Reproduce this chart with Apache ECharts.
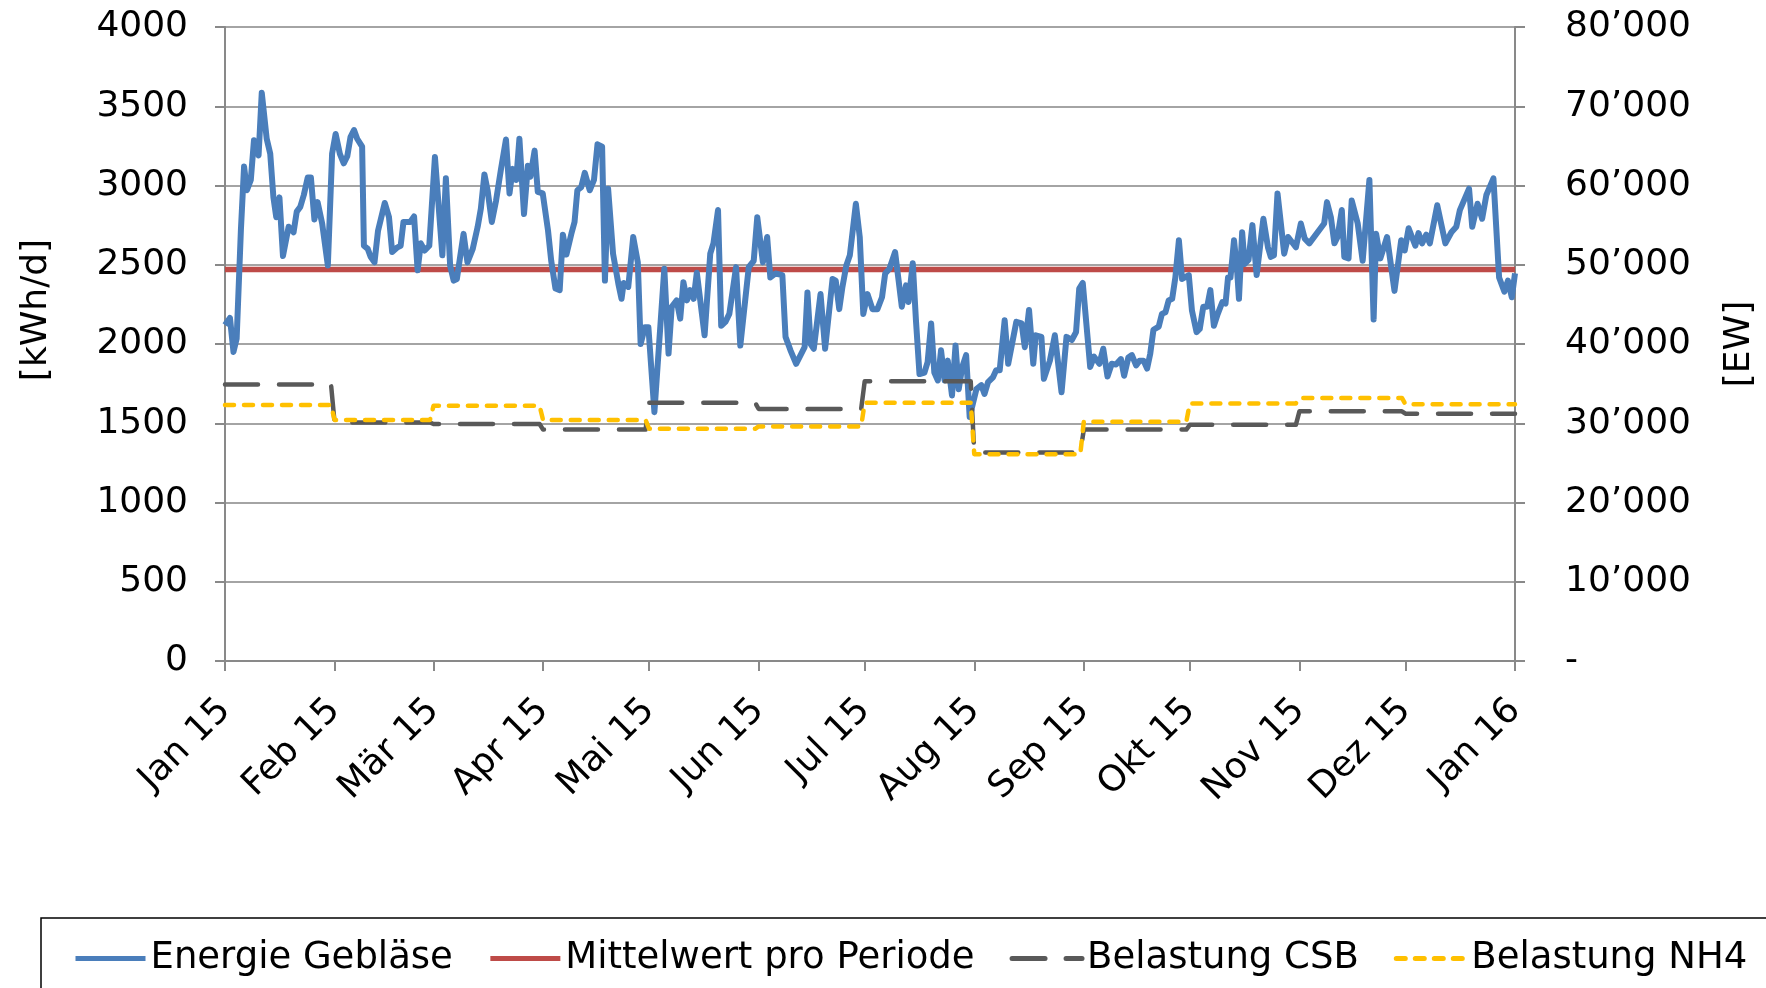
<!DOCTYPE html>
<html>
<head>
<meta charset="utf-8">
<title>Energie Gebläse</title>
<script src="https://cdn.jsdelivr.net/npm/echarts@6/dist/echarts.min.js"></script>
<style>
  html, body { margin: 0; padding: 0; background: #fff; }
  #chart { width: 1766px; height: 988px; }
</style>
</head>
<body>
<div id="chart"></div>
<script>
// month ticks on the x axis (day of year 2015)
const monthStarts = [0, 31, 59, 90, 120, 151, 181, 212, 243, 273, 304, 334, 365];
const monthLabels = ['Jan 15', 'Feb 15', 'Mär 15', 'Apr 15', 'Mai 15', 'Jun 15', 'Jul 15',
  'Aug 15', 'Sep 15', 'Okt 15', 'Nov 15', 'Dez 15', 'Jan 16'];

// Energie Gebläse [kWh/d] (day, value)
const energyDays = [
  0, 1.4, 2.4, 3.3, 4.5, 5.4, 6.2, 7.3, 8.2, 9.5, 10.4, 11.8, 12.8, 13.7, 14.5, 15.4, 16.4, 18, 19.4, 20.3,
  21.3, 22.3, 23.4, 24.3, 25.3, 26.2, 27.5, 29.1, 30.3, 31.3, 32.5, 33.6, 34.6, 35.5, 36.5, 37.4, 38.8, 39.3, 40.4, 41.2,
  42.3, 43.3, 45.2, 46.4, 47.3, 48.8, 49.7, 50.5, 52.4, 53.5, 54.5, 55.4, 56.5, 57.8, 59.4,
  61.5, 62.5, 63.7, 64.7, 65.6, 67.5, 68.6, 70.1, 71.5, 72.4, 73.4, 74.3, 75.5, 76.7, 78.1, 79.5, 80.5, 81.4, 82.4, 83.3,
  84.6, 85.7, 86.4, 87.6, 88.5, 89.9, 91.4, 92.3, 93.5, 94.7, 95.6, 96.6, 98, 98.9, 99.7, 100.8, 101.8, 103.2, 104.4, 105.4,
  106.7, 107.5, 108.4, 109.8, 111.3, 112.2, 112.8, 114.1, 115.5, 116.8, 117.6, 118.8, 119.8,
  121.5, 124.3, 125.5, 126.4, 127.8, 128.8, 129.7, 130.7, 131.6, 132.6, 133.5, 135.7, 137.3, 138.2, 139.5, 140.4, 141.6, 142.7,
  144.6, 145.8, 148.2, 149.6, 150.6, 152.2, 153.4, 154.3, 155.8, 157.7, 158.6, 160, 161.6, 164, 164.8, 165.7, 166.6, 168.5,
  169.8, 171.9, 172.8, 173.8, 174.7, 175.8, 176.8, 178.5, 179.6, 180.6,
  181.8, 183.2, 184.6, 185.9, 186.8, 188, 189.6, 190.6, 191.5, 192.7, 193.4, 194.6, 195.5, 196.5, 197.9, 198.8, 199.8, 200.7,
  201.7, 202.6, 203.6, 204.5, 205.7, 206.7, 207.6, 208.6, 209.7, 210.7, 211.2, 212.6, 214, 214.9, 215.9, 217.3, 218.2, 219.2,
  220.6, 221.6, 223.9, 225.4, 226.3, 227.5, 228.7, 229.4, 231, 231.7, 233.4, 234.8, 236.7, 238.1,
  239.6, 240.8, 241.7, 242.7, 244.8, 245.9, 247.4, 248.5, 249.7, 250.9, 252.1, 253.5, 254.4, 255.6, 256.6, 257.8, 258.8, 259.9,
  260.9, 261.8, 262.7, 264.2, 265.1, 266.1, 267, 268, 268.9, 269.9, 270.8, 272.7, 273.6, 274.9, 275.8, 276.8, 277.9, 278.8,
  279.8, 280.9, 282.2, 283.1, 283.8, 284.5, 285.5, 286.4, 286.9, 287.8, 288.5, 289.6, 290.7, 291.9, 293.8, 295.1, 295.9, 296.8, 297.8,
  299.7, 300.8, 303, 304.4, 305.5, 306.8, 311, 311.8, 312.9, 313.9, 314.8, 316, 316.7, 317.9, 318.8, 320.5, 321.9, 323.8,
  325, 325.7, 326.9, 328.8, 330.9, 332.8, 333.8, 334.9, 336.8, 337.7, 338.7, 339.9, 340.9, 343, 345.3, 347, 348.4, 349.4,
  352, 352.9, 354.4, 355.7, 356.9, 358.9, 360.5, 362, 363, 364.1, 365
];
const energyKwh = [
  2120, 2165, 1950, 2035, 2720, 3120, 2970, 3035, 3285, 3190, 3585, 3295, 3200, 2925, 2800, 2925, 2555, 2740, 2705, 2835,
  2865, 2940, 3050, 3050, 2785, 2895, 2760, 2495, 3200, 3325, 3200, 3140, 3185, 3305, 3350, 3295, 3245, 2620, 2600, 2550,
  2515, 2715, 2890, 2800, 2580, 2610, 2620, 2770, 2770, 2805, 2465, 2635, 2590, 2620, 3180,
  2560, 3045, 2495, 2400, 2410, 2695, 2515, 2600, 2740, 2855, 3070, 2970, 2770, 2905, 3105, 3290, 2950, 3105, 3035, 3295,
  2820, 3125, 3055, 3220, 2960, 2950, 2715, 2525, 2350, 2340, 2690, 2565, 2695, 2770, 2970, 2990, 3080, 2970, 3035, 3260,
  3245, 2400, 2980, 2570, 2380, 2285, 2385, 2360, 2675, 2515, 2000, 2105, 2105,
  1570, 2475, 1940, 2235, 2275, 2160, 2390, 2275, 2340, 2285, 2450, 2055, 2570, 2635, 2845, 2115, 2140, 2190,
  2485, 1990, 2485, 2525, 2800, 2515, 2675, 2420, 2445, 2435, 2045, 1960, 1875, 1980, 2325, 2000, 1970, 2315,
  1970, 2410, 2400, 2220, 2360, 2495, 2560, 2885, 2675, 2190,
  2315, 2220, 2220, 2295, 2445, 2475, 2580, 2400, 2235, 2370, 2265, 2510, 2150, 1810, 1820, 1885, 2130, 1820,
  1770, 1960, 1770, 1895, 1675, 1990, 1715, 1855, 1930, 1540, 1540, 1715, 1740, 1685, 1760, 1790, 1835, 1835,
  2150, 1875, 2140, 2130, 1980, 2215, 1875, 2055, 2045, 1780, 1895, 2055, 1695, 2045,
  2025, 2075, 2350, 2385, 1855, 1920, 1875, 1970, 1795, 1875, 1870, 1905, 1800, 1915, 1930, 1865, 1895, 1895,
  1845, 1940, 2090, 2110, 2190, 2200, 2275, 2285, 2420, 2655, 2410, 2435, 2210, 2075, 2095, 2235, 2235, 2340,
  2115, 2190, 2265, 2255, 2420, 2420, 2655, 2455, 2285, 2705, 2505, 2530, 2750, 2435, 2790, 2610, 2550, 2560, 2950,
  2570, 2675, 2610, 2760, 2665, 2635, 2760, 2895, 2800, 2635, 2675, 2845, 2550, 2540, 2905, 2760, 2525, 3035,
  2155, 2695, 2540, 2675, 2335, 2655, 2590, 2730, 2620, 2700, 2635, 2690, 2635, 2875, 2635, 2705, 2740, 2845,
  2980, 2740, 2885, 2790, 2940, 3045, 2420, 2330, 2400, 2295, 2445
];

// Mittelwert pro Periode [kWh/d]
const meanDays = [0, 365];
const meanKwh = [2470, 2470];

// monthly loads [EW], one value per month Jan..Dez
const csbEW = [34900, 30100, 29900, 29200, 32600, 31800, 35300, 26300, 29200, 29800, 31500, 31200];
const nh4EW = [32300, 30400, 32200, 30400, 29300, 29600, 32600, 26100, 30200, 32500, 33200, 32400];

const leftTicks = [0, 4000, 500];
const rightTicks = [0, 80000, 10000];

const FONT = '"DejaVu Sans", Verdana, sans-serif';

function pairs (xs, ys) {
  return xs.map((x, i) => [x, ys[i]]);
}

function monthSteps (vals) {
  const out = [];
  vals.forEach((v, i) => {
    const a = monthStarts[i];
    const b = i === vals.length - 1 ? monthStarts[i + 1] : monthStarts[i + 1] - 1;
    out.push([a, v], [b, v]);
  });
  return out;
}

const chart = echarts.init(document.getElementById('chart'));

const option = {
  animation: false,
  textStyle: { fontFamily: FONT },
  grid: {
    left: 225,
    right: 251,
    top: 27,
    bottom: 327,
    outerBoundsMode: 'none'
  },
  legend: {
    left: 41,
    top: 918,
    width: 2000,
    padding: [22, 36, 40, 32],
    borderColor: '#000',
    borderWidth: 1.5,
    itemWidth: 70,
    itemHeight: 14,
    itemGap: 35,
    itemStyle: { opacity: 0 },
    lineStyle: { width: 5 },
    textStyle: { fontFamily: FONT, fontSize: 37, color: '#000' },
    data: ['Energie Gebläse', 'Mittelwert pro Periode', 'Belastung CSB', 'Belastung NH4']
  },
  xAxis: {
    type: 'value',
    min: monthStarts[0],
    max: monthStarts[monthStarts.length - 1],
    splitLine: { show: false },
    axisLine: { show: true, lineStyle: { color: '#898989', width: 2 } },
    axisTick: {
      show: true,
      length: 10,
      customValues: monthStarts,
      lineStyle: { color: '#898989', width: 2 }
    },
    axisLabel: {
      customValues: monthStarts,
      rotate: 45,
      margin: 44,
      fontFamily: FONT,
      fontSize: 36,
      color: '#000',
      formatter: function (v) {
        const i = monthStarts.indexOf(Math.round(v));
        return i >= 0 ? monthLabels[i] : '';
      }
    }
  },
  yAxis: [{
    type: 'value',
    min: leftTicks[0],
    max: leftTicks[1],
    interval: leftTicks[2],
    axisLine: { show: true, lineStyle: { color: '#898989', width: 2 } },
    axisTick: { show: true, length: 10, lineStyle: { color: '#898989', width: 2 } },
    splitLine: { show: true, lineStyle: { color: '#868686', width: 1.6 } },
    axisLabel: {
      margin: 37,
      fontFamily: FONT,
      fontSize: 36,
      color: '#000',
      formatter: function (v) {
        return String(v);
      }
    }
  }, {
    type: 'value',
    position: 'right',
    min: rightTicks[0],
    max: rightTicks[1],
    interval: rightTicks[2],
    axisLine: { show: true, lineStyle: { color: '#898989', width: 2 } },
    axisTick: { show: true, length: 10, lineStyle: { color: '#898989', width: 2 } },
    splitLine: { show: false },
    axisLabel: {
      margin: 50,
      fontFamily: FONT,
      fontSize: 36,
      color: '#000',
      align: 'left',
      formatter: function (v) {
        return v === 0 ? '-' : (v / 1000) + '\u2019000';
      }
    }
  }],
  graphic: [{
    type: 'text',
    x: 37,
    y: 310,
    rotation: Math.PI / 2,
    style: {
      text: '[kWh/d]',
      fontFamily: FONT,
      fontSize: 36,
      fill: '#000',
      align: 'center',
      verticalAlign: 'middle'
    }
  }, {
    type: 'text',
    x: 1740,
    y: 344,
    rotation: Math.PI / 2,
    style: {
      text: '[EW]',
      fontFamily: FONT,
      fontSize: 36,
      fill: '#000',
      align: 'center',
      verticalAlign: 'middle'
    }
  }],
  series: [{
    name: 'Energie Gebläse',
    type: 'line',
    yAxisIndex: 0,
    z: 3,
    symbol: 'none',
    color: '#4A7EBB',
    lineStyle: { color: '#4A7EBB', width: 6, join: 'round' },
    data: pairs(energyDays, energyKwh)
  }, {
    name: 'Mittelwert pro Periode',
    type: 'line',
    yAxisIndex: 0,
    z: 2,
    symbol: 'none',
    color: '#BE4B48',
    lineStyle: { color: '#BE4B48', width: 5.5 },
    data: pairs(meanDays, meanKwh)
  }, {
    name: 'Belastung CSB',
    type: 'line',
    yAxisIndex: 1,
    z: 4,
    symbol: 'none',
    color: '#595959',
    lineStyle: { color: '#595959', width: 4.5, type: [33, 21], cap: 'round', join: 'round' },
    data: monthSteps(csbEW)
  }, {
    name: 'Belastung NH4',
    type: 'line',
    yAxisIndex: 1,
    z: 5,
    symbol: 'none',
    color: '#FFC000',
    lineStyle: { color: '#FFC000', width: 4.5, type: [9, 10], cap: 'round', join: 'round' },
    data: monthSteps(nh4EW)
  }]
};

chart.setOption(option);
</script>
</body>
</html>
